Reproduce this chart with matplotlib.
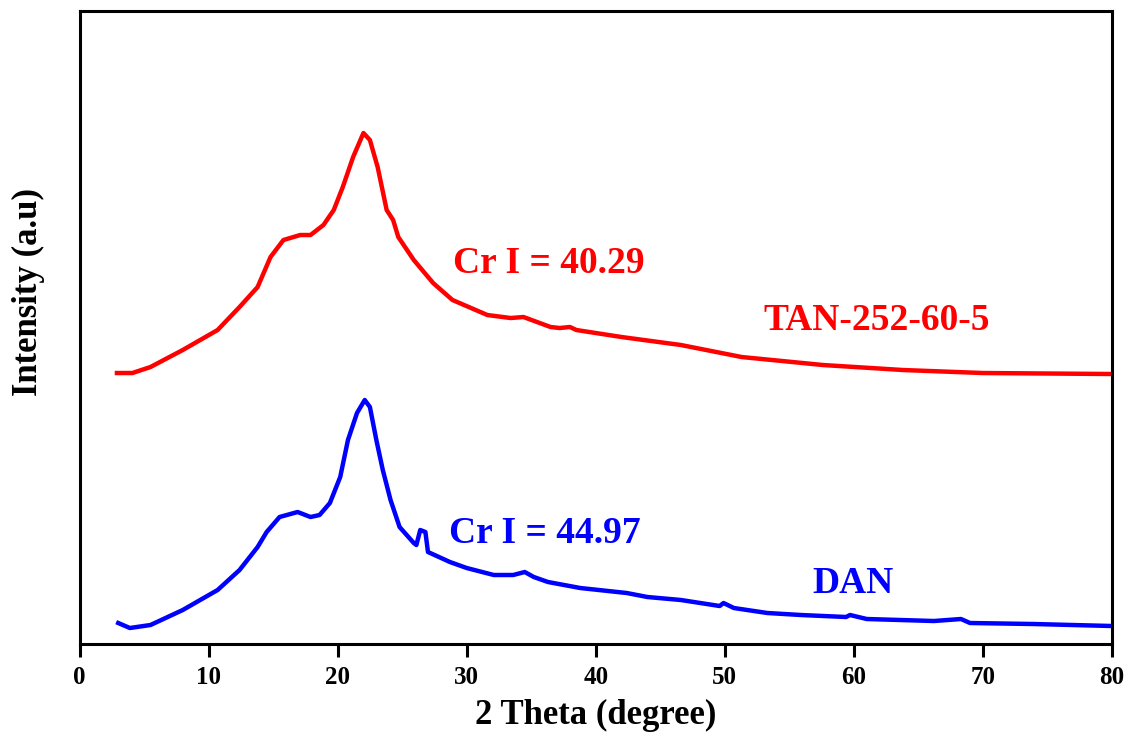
import matplotlib
matplotlib.use("Agg")
import matplotlib.pyplot as plt

# XRD patterns (2 theta in degree, intensity in a.u.)
tan_theta = [2.9, 4.1, 5.5, 8.0, 10.7, 12.4, 13.8, 14.8, 15.8, 17.1, 17.9, 18.9,
             19.7, 20.4, 21.2, 22.0, 22.5, 23.1, 23.8, 24.3, 24.7, 25.9, 27.4,
             28.9, 31.6, 33.4, 34.4, 36.5, 37.2, 38.0, 38.5, 42.0, 46.6, 51.3,
             57.6, 63.8, 70.0, 80.0]
tan_int = [271, 271, 277, 294, 314, 337, 357, 387, 404, 409, 409, 419,
           434, 457, 487, 511, 504, 477, 434, 424, 407, 384, 361,
           344, 329, 326, 327, 317, 316, 317, 314, 307, 299, 287,
           279, 274, 271, 270]

dan_theta = [3.0, 3.9, 5.5, 8.0, 10.7, 12.4, 13.8, 14.5, 15.5, 16.9, 17.9, 18.6,
             19.4, 20.2, 20.8, 21.5, 22.1, 22.5, 23.0, 23.5, 24.1, 24.8, 25.9,
             26.1, 26.4, 26.8, 27.0, 28.7, 30.0, 32.1, 33.6, 34.5, 35.2, 36.3,
             38.8, 42.4, 44.0, 46.6, 49.6, 49.9, 50.7, 53.3, 55.9, 59.4, 59.7,
             61.0, 66.2, 68.3, 69.0, 73.9, 80.0]
dan_int = [21, 16, 19, 34, 54, 74, 97, 112, 127, 132, 127, 129,
           141, 167, 204, 231, 244, 237, 204, 174, 144, 117, 101,
           99, 114, 112, 92, 82, 76, 69, 69, 72, 67, 62,
           56, 51, 47, 44, 38, 41, 36, 31, 29, 27, 29,
           25, 23, 25, 21, 20, 18]

labels = ["TAN-252-60-5", "DAN"]
cr_index = ["Cr I = 40.29", "Cr I = 44.97"]
x_ticks = [0, 10, 20, 30, 40, 50, 60, 70, 80]

plt.rcParams['font.family'] = ['Liberation Serif', 'DejaVu Serif']
plt.rcParams['font.weight'] = 'bold'

fig = plt.figure(figsize=(11.31, 7.35), dpi=100)
ax = fig.add_axes([0.0703, 0.1238, 0.9129, 0.8612])

ax.plot(tan_theta, tan_int, color='#ff0000', lw=3.2)
ax.plot(dan_theta, dan_int, color='#0000ff', lw=3.2)

ax.text(28.95, 381, cr_index[0], color='#ff0000', fontsize=27, fontweight='bold', va='center')
ax.text(53.0, 324, labels[0], color='#ff0000', fontsize=27, fontweight='bold', va='center')
ax.text(28.6, 111, cr_index[1], color='#0000ff', fontsize=27, fontweight='bold', va='center')
ax.text(56.8, 61, labels[1], color='#0000ff', fontsize=27, fontweight='bold', va='center')

ax.set_xlim(0, 80)
ax.set_ylim(0, 633)
ax.set_xticks(x_ticks)
ax.set_xticklabels([str(t) for t in x_ticks], fontsize=18, fontweight='bold')
ax.set_yticks([])
ax.tick_params(axis='x', direction='out', length=9, width=2.2, pad=7)

for s in ax.spines.values():
    s.set_linewidth(2.2)

ax.set_xlabel('2 Theta (degree)', fontsize=25, fontweight='bold', labelpad=7)
ax.set_ylabel('Intensity (a.u)', fontsize=25, fontweight='bold', va='center')
ax.yaxis.set_label_coords(-0.049, 0.556)

fig.savefig('out.png', dpi=100)
